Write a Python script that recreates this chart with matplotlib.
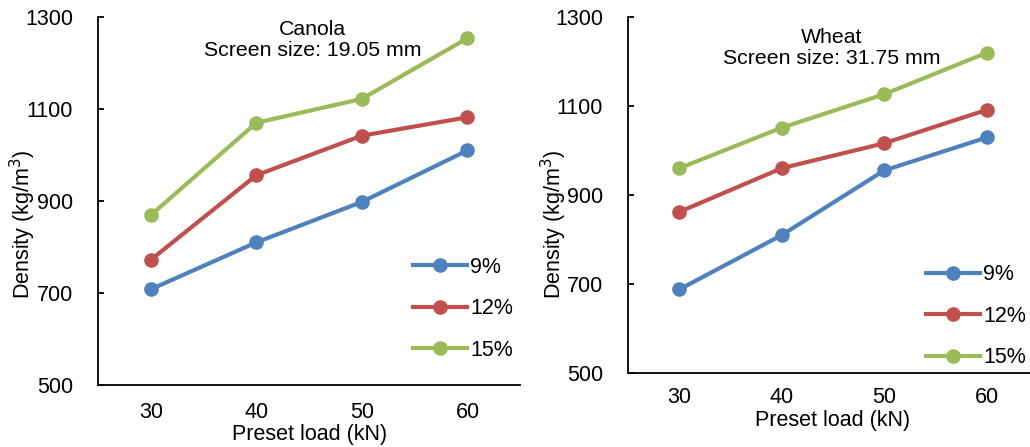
import matplotlib.pyplot as plt

plt.rcParams['font.family'] = ['Liberation Sans', 'DejaVu Sans']

# Preset load categories (kN)
loads = ['30', '40', '50', '60']
moisture = ['9%', '12%', '15%']

# Density values (kg/m3)
canola_9 = [708, 810, 898, 1010]
canola_12 = [772, 956, 1042, 1082]
canola_15 = [869, 1070, 1122, 1254]

wheat_9 = [688, 810, 955, 1029]
wheat_12 = [862, 960, 1016, 1091]
wheat_15 = [960, 1051, 1126, 1219]

colors = ['#4F81BD', '#C0504D', '#9BBB59']

fig = plt.figure(figsize=(10.30, 4.47), dpi=100)
ax1 = fig.add_axes([0.0951, 0.1387, 0.41, 0.8233])
ax2 = fig.add_axes([0.6097, 0.1649, 0.398, 0.7978])


def draw_panel(ax, series, title, title_pos, legend_pos, xpad, ylab_y):
    x = range(len(loads))
    for vals, lab, c in zip(series, moisture, colors):
        ax.plot(x, vals, color=c, lw=3, marker='o', markersize=9.5, label=lab)
    ax.set_xlim(-0.5, 3.5)
    ax.set_ylim(500, 1300)
    ax.set_yticks([500, 700, 900, 1100, 1300])
    ax.set_xticks(list(x))
    ax.set_xticklabels(loads)
    ax.spines['top'].set_visible(False)
    ax.spines['right'].set_visible(False)
    ax.spines['left'].set_linewidth(1.3)
    ax.spines['bottom'].set_linewidth(1.3)
    ax.tick_params(axis='x', length=0, labelsize=15.5, pad=xpad)
    ax.tick_params(axis='y', length=4, width=1.3, direction='in', labelsize=15.5, pad=18)
    ax.set_xlabel('Preset load (kN)', fontsize=15.5, labelpad=1)
    ax.set_ylabel('Density (kg/m$^3$)', fontsize=15.5)
    ax.yaxis.set_label_coords(-0.143, ylab_y)
    ax.text(title_pos[0], title_pos[1], title, transform=ax.transAxes, ha='center', va='center',
            fontsize=15.3, linespacing=1.13)
    ax.legend(loc='upper left', bbox_to_anchor=legend_pos, bbox_transform=fig.transFigure,
              frameon=False, fontsize=15.5, handlelength=2.5, handletextpad=0.15,
              labelspacing=0.95, borderaxespad=0)


draw_panel(ax1, [canola_9, canola_12, canola_15], 'Canola\nScreen size: 19.05 mm',
           (0.509, 0.9375), (0.393, 0.445), 12, 0.4375)
draw_panel(ax2, [wheat_9, wheat_12, wheat_15], 'Wheat\nScreen size: 31.75 mm',
           (0.4976, 0.912), (0.891, 0.428), 10, 0.419)

fig.savefig('out.png', dpi=100)
